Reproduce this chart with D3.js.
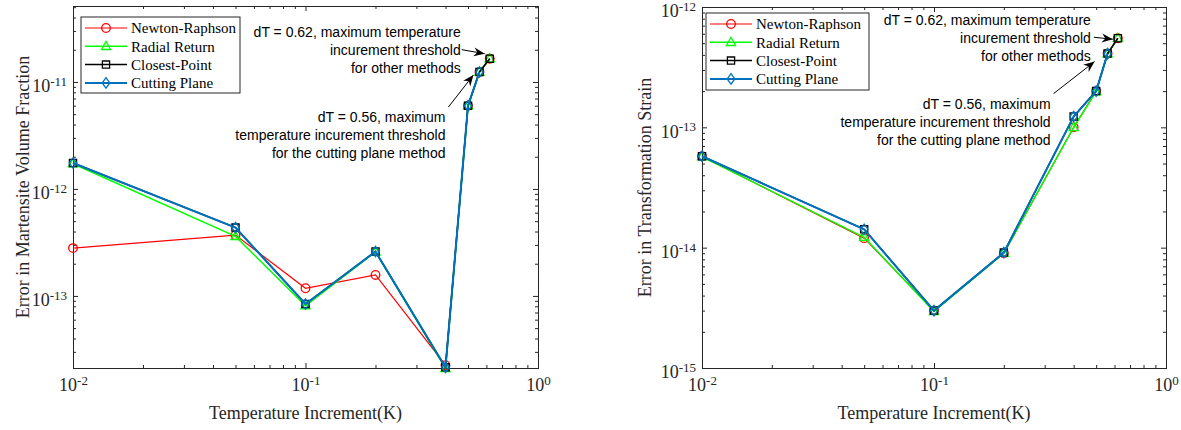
<!DOCTYPE html>
<html>
<head>
<meta charset="utf-8">
<script src="https://cdn.jsdelivr.net/npm/d3@7"></script>
<style>
  body { margin: 0; background: #fff; }
  svg { display: block; }
</style>
</head>
<body>
<svg id="chart" width="1181" height="430"></svg>
<script>
//----------------------------DATA------------------------------//
const dT = [0.01, 0.05, 0.1, 0.2, 0.4, 0.5, 0.56, 0.62];
const seriesNames = ["Newton-Raphson", "Radial Return", "Closest-Point", "Cutting Plane"];
const seriesColors = ["#ff0000", "#00ff00", "#000000", "#0072bd"];
const seriesMarkers = ["circle", "triangle", "square", "diamond"];
const seriesWidths = [1.2, 1.5, 1.5, 2];

// left: error in martensite volume fraction
const newtonVF  = [2.8e-13, 3.7e-13, 1.18e-13, 1.57e-13, 2.25e-14, 6.0e-12, 1.24e-11, 1.65e-11];
const radialVF  = [1.72e-12, 3.6e-13, 8.1e-14, 2.58e-13, 2.1e-14, 6.0e-12, 1.24e-11, 1.65e-11];
const closestVF = [1.75e-12, 4.35e-13, 8.4e-14, 2.6e-13, 2.15e-14, 6.0e-12, 1.24e-11, 1.65e-11];
const cuttingVF = [1.75e-12, 4.35e-13, 8.4e-14, 2.6e-13, 2.15e-14, 6.0e-12, 1.24e-11];

// right: error in transformation strain
const newtonTS  = [5.75e-14, 1.2e-14, 3.0e-15, 9.0e-15, 1.0e-13, 2.0e-13, 4.1e-13, 5.5e-13];
const radialTS  = [5.7e-14, 1.22e-14, 2.95e-15, 9.0e-15, 1.0e-13, 1.98e-13, 4.1e-13, 5.5e-13];
const closestTS = [5.75e-14, 1.42e-14, 3.0e-15, 9.1e-15, 1.23e-13, 2.0e-13, 4.1e-13, 5.5e-13];
const cuttingTS = [5.75e-14, 1.42e-14, 3.0e-15, 9.1e-15, 1.23e-13, 2.0e-13, 4.1e-13];

const xTicks = [0.01, 0.1, 1];
const note62 = ["dT = 0.62, maximum temperature", "incurement threshold", "for other methods"];
const note56 = ["dT = 0.56, maximum", "temperature incurement threshold", "for the cutting plane method"];

//----------------------------LAYOUT----------------------------//
const axisColor = "#262626";
const serif = "'Liberation Serif', 'Times New Roman', serif";
const sans = "'Liberation Sans', Arial, sans-serif";

const panels = [
  {
    box: { x0: 73, x1: 538, y0: 6, y1: 368 },
    yDomain: [2.12e-14, 5.13e-11],
    yTicks: [1e-13, 1e-12, 1e-11],
    yLabel: "Error in Martensite Volume Fraction",
    labelX: 29,
    series: [newtonVF, radialVF, closestVF, cuttingVF],
    legend: { x: 81, y: 17, w: 159, h: 76 },
    notes: [
      { lines: note62, s: 2, i: 7, tip: [-5, -5], tail: [-28, -9], text: [-29, -27] },
      { lines: note56, s: 3, i: 6, tip: [-6, 3], tail: [-31, 35], text: [-34, 45] }
    ]
  },
  {
    box: { x0: 702, x1: 1166, y0: 7, y1: 368 },
    yDomain: [1e-15, 1e-12],
    yTicks: [1e-15, 1e-14, 1e-13, 1e-12],
    yLabel: "Error in Transformation Strain",
    labelX: 651,
    series: [newtonTS, radialTS, closestTS, cuttingTS],
    legend: { x: 706, y: 13, w: 163, h: 77 },
    notes: [
      { lines: note62, s: 2, i: 7, tip: [-5, 1], tail: [-24, -1], text: [-27, -18] },
      { lines: note56, s: 3, i: 6, tip: [-13, 8], tail: [-54, 40], text: [-57, 51] }
    ]
  }
];

const svg = d3.select("#chart");

function minorTicks(domain) {
  const out = [];
  const lo = Math.floor(Math.log10(domain[0])), hi = Math.ceil(Math.log10(domain[1]));
  for (let e = lo; e <= hi; e++) {
    for (let k = 2; k <= 9; k++) {
      const v = k * Math.pow(10, e);
      if (v > domain[0] && v < domain[1]) out.push(v);
    }
  }
  return out;
}

function supLabels(sel, anchor) {
  sel.selectAll(".tick text").each(function(d) {
    const t = d3.select(this);
    t.text(null)
      .attr("fill", axisColor)
      .style("font-family", serif)
      .style("font-size", "18px");
    t.append("tspan").text("10");
    t.append("tspan")
      .attr("dy", "-0.5em")
      .style("font-size", "13px")
      .text(String(Math.round(Math.log10(d))));
  });
}

function markerPath(type) {
  if (type === "circle") return d3.path ? "M4.3,0A4.3,4.3,0,1,1,-4.3,0A4.3,4.3,0,1,1,4.3,0Z" : "";
  if (type === "triangle") return "M0,-5L4.6,3.2L-4.6,3.2Z";
  if (type === "square") return "M-3.6,-3.6H3.6V3.6H-3.6Z";
  return "M0,-5.2L3.8,0L0,5.2L-3.8,0Z";
}

function arrowHead(g, tail, tip) {
  const ang = Math.atan2(tip[1] - tail[1], tip[0] - tail[0]) * 180 / Math.PI;
  g.append("line")
    .attr("x1", tail[0]).attr("y1", tail[1])
    .attr("x2", tip[0]).attr("y2", tip[1])
    .attr("stroke", "#000").attr("stroke-width", 1);
  g.append("path")
    .attr("d", "M0,0L-11,-4.5L-7.5,0L-11,4.5Z")
    .attr("transform", "translate(" + tip[0] + "," + tip[1] + ") rotate(" + ang + ")")
    .attr("fill", "#000");
}

//----------------------------DRAW------------------------------//
panels.forEach(function(p) {
  const b = p.box;
  const x = d3.scaleLog().domain([0.01, 1]).range([b.x0, b.x1]);
  const y = d3.scaleLog().domain(p.yDomain).range([b.y1, b.y0]);
  const g = svg.append("g");

  // axes (ticks inward on all four sides)
  const xMinor = minorTicks([0.01, 1]);
  const yMinor = minorTicks(p.yDomain);

  g.append("g").attr("transform", "translate(0," + b.y1 + ")")
    .call(d3.axisBottom(x).tickValues(xMinor).tickSize(-3).tickFormat(""));
  g.append("g").attr("transform", "translate(0," + b.y0 + ")")
    .call(d3.axisTop(x).tickValues(xMinor).tickSize(-3).tickFormat(""));
  g.append("g").attr("transform", "translate(" + b.x0 + ",0)")
    .call(d3.axisLeft(y).tickValues(yMinor).tickSize(-3).tickFormat(""));
  g.append("g").attr("transform", "translate(" + b.x1 + ",0)")
    .call(d3.axisRight(y).tickValues(yMinor).tickSize(-3).tickFormat(""));

  g.append("g").attr("class", "x-axis").attr("transform", "translate(0," + b.y1 + ")")
    .call(d3.axisBottom(x).tickValues(xTicks).tickSize(-5).tickSizeOuter(0).tickPadding(14))
    .call(supLabels);
  g.append("g").attr("transform", "translate(0," + b.y0 + ")")
    .call(d3.axisTop(x).tickValues(xTicks).tickSize(-5).tickSizeOuter(0).tickFormat(""));
  g.append("g").attr("class", "y-axis").attr("transform", "translate(" + b.x0 + ",0)")
    .call(d3.axisLeft(y).tickValues(p.yTicks).tickSize(-5).tickSizeOuter(0).tickPadding(6))
    .call(supLabels);
  g.append("g").attr("transform", "translate(" + b.x1 + ",0)")
    .call(d3.axisRight(y).tickValues(p.yTicks).tickSize(-5).tickSizeOuter(0).tickFormat(""));

  g.selectAll(".domain, .tick line").attr("stroke", axisColor).attr("stroke-width", 1);
  g.selectAll(".y-axis .tick text").attr("dy", "0.55em");
  g.selectAll(".x-axis .tick text").attr("dy", "0.5em");

  // axis titles
  g.append("text")
    .attr("x", (b.x0 + b.x1) / 2).attr("y", 419)
    .attr("text-anchor", "middle")
    .attr("fill", axisColor)
    .style("font-family", serif).style("font-size", "18px")
    .text("Temperature Increment(K)");
  g.append("text")
    .attr("transform", "translate(" + p.labelX + "," + ((b.y0 + b.y1) / 2) + ") rotate(-90)")
    .attr("text-anchor", "middle")
    .attr("fill", axisColor)
    .style("font-family", serif).style("font-size", "18px")
    .text(p.yLabel);

  // lines + markers
  const line = d3.line()
    .x(function(d) { return x(d.t); })
    .y(function(d) { return y(d.v); });

  p.series.forEach(function(vals, s) {
    const pts = vals.map(function(v, i) { return { t: dT[i], v: v }; });
    const sg = g.append("g");
    sg.append("path")
      .attr("d", line(pts))
      .attr("fill", "none")
      .attr("stroke", seriesColors[s])
      .attr("stroke-width", seriesWidths[s]);
    sg.selectAll("path.mk")
      .data(pts)
      .enter().append("path")
      .attr("class", "mk")
      .attr("d", markerPath(seriesMarkers[s]))
      .attr("transform", function(d) { return "translate(" + x(d.t) + "," + y(d.v) + ")"; })
      .attr("fill", "none")
      .attr("stroke", seriesColors[s])
      .attr("stroke-width", 1.3);
  });

  // legend
  const L = p.legend;
  const lg = g.append("g").attr("transform", "translate(" + L.x + "," + L.y + ")");
  lg.append("rect")
    .attr("width", L.w).attr("height", L.h)
    .attr("fill", "#fff").attr("stroke", axisColor).attr("stroke-width", 1);
  seriesNames.forEach(function(name, s) {
    const ry = 11 + s * 18.3;
    lg.append("line")
      .attr("x1", 4).attr("x2", 46).attr("y1", ry).attr("y2", ry)
      .attr("stroke", seriesColors[s]).attr("stroke-width", seriesWidths[s]);
    lg.append("path")
      .attr("d", markerPath(seriesMarkers[s]))
      .attr("transform", "translate(25," + ry + ")")
      .attr("fill", "none").attr("stroke", seriesColors[s]).attr("stroke-width", 1.3);
    lg.append("text")
      .attr("x", 50).attr("y", ry).attr("dy", "0.35em")
      .attr("fill", "#000")
      .style("font-family", serif).style("font-size", "15px")
      .text(name);
  });

  // annotations
  p.notes.forEach(function(n) {
    const px = x(dT[n.i]), py = y(p.series[n.s][n.i]);
    const ag = g.append("g");
    arrowHead(ag, [px + n.tail[0], py + n.tail[1]], [px + n.tip[0], py + n.tip[1]]);
    n.lines.forEach(function(txt, k) {
      ag.append("text")
        .attr("x", px + n.text[0])
        .attr("y", py + n.text[1] + k * 18)
        .attr("dy", "0.35em")
        .attr("text-anchor", "end")
        .attr("fill", "#000")
        .style("font-family", sans).style("font-size", "14px")
        .text(txt);
    });
  });
});
</script>
</body>
</html>
